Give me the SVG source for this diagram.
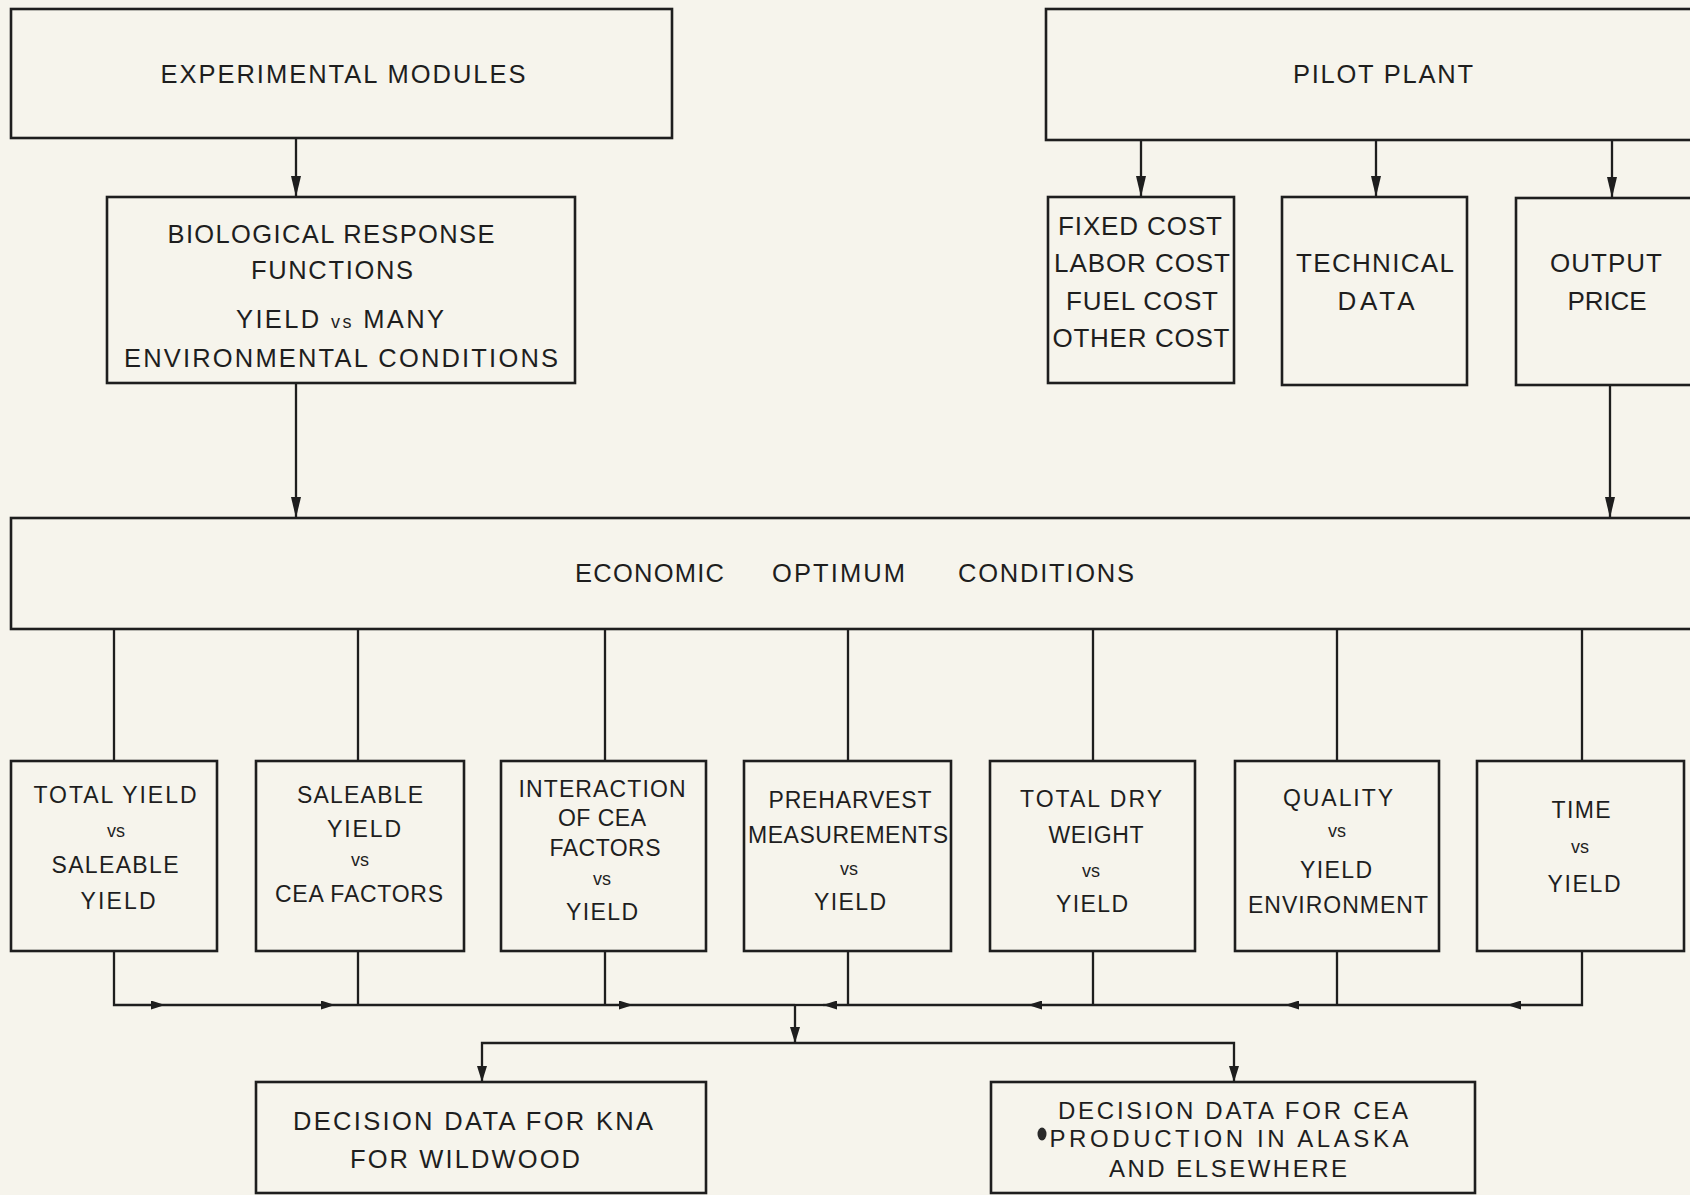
<svg xmlns="http://www.w3.org/2000/svg" width="1690" height="1195" viewBox="0 0 1690 1195">
<style>
.box{fill:none;stroke:#1e1e1e;stroke-width:2.6}
.ln{fill:none;stroke:#1e1e1e;stroke-width:2.3}
.t{font-family:"Liberation Sans",Arial,sans-serif;fill:#1e1e1e;text-anchor:middle}
.s{text-anchor:start}
.f24{font-size:25.5px}
.f25{font-size:26px}
.f22{font-size:23px}
.f23{font-size:24px}
.vs{font-size:18px}
</style>
<defs>
<marker id="big" viewBox="0 0 21 10" refX="21" refY="5" markerWidth="21" markerHeight="10" markerUnits="userSpaceOnUse" orient="auto"><path d="M0,0 L21,5 L0,10 z" fill="#1e1e1e"/></marker>
<marker id="mid" viewBox="0 0 16 10" refX="16" refY="5" markerWidth="16" markerHeight="10" markerUnits="userSpaceOnUse" orient="auto"><path d="M0,0 L16,5 L0,10 z" fill="#1e1e1e"/></marker>
<marker id="sm" viewBox="0 0 14 9" refX="14" refY="4.5" markerWidth="14" markerHeight="9" markerUnits="userSpaceOnUse" orient="auto"><path d="M0,0 L14,4.5 L0,9 z" fill="#1e1e1e"/></marker>
</defs>
<rect width="1690" height="1195" fill="#f6f4ec"/>

<g id="connectors">
<path class="ln" d="M296,138 V197" marker-end="url(#big)"/>
<path class="ln" d="M1141,140 V197" marker-end="url(#big)"/>
<path class="ln" d="M1376,140 V197" marker-end="url(#big)"/>
<path class="ln" d="M1612,140 V198" marker-end="url(#big)"/>
<path class="ln" d="M296,383 V518" marker-end="url(#big)"/>
<path class="ln" d="M1610,385 V518" marker-end="url(#big)"/>
<path class="ln" d="M114,629 V761 M358,629 V761 M605,629 V761 M848,629 V761 M1093,629 V761 M1337,629 V761 M1582,629 V761"/>
<path class="ln" d="M114,951 V1005 H165" marker-end="url(#sm)"/>
<path class="ln" d="M165,1005 H335" marker-end="url(#sm)"/>
<path class="ln" d="M335,1005 H633" marker-end="url(#sm)"/>
<path class="ln" d="M633,1005 H795"/>
<path class="ln" d="M358,951 V1005 M605,951 V1005 M848,951 V1005 M1093,951 V1005 M1337,951 V1005"/>
<path class="ln" d="M1582,951 V1005 H1507" marker-end="url(#sm)"/>
<path class="ln" d="M1507,1005 H1285" marker-end="url(#sm)"/>
<path class="ln" d="M1285,1005 H1028" marker-end="url(#sm)"/>
<path class="ln" d="M1028,1005 H823" marker-end="url(#sm)"/>
<path class="ln" d="M823,1005 H795"/>
<path class="ln" d="M795,1005 V1043" marker-end="url(#mid)"/>
<path class="ln" d="M795,1043 H482 V1082" marker-end="url(#mid)"/>
<path class="ln" d="M795,1043 H1234 V1082" marker-end="url(#mid)"/>
</g>

<g id="experimental-modules">
<rect class="box" x="11" y="9" width="661" height="129"/>
<text class="t f24" x="343" y="83" textLength="365">EXPERIMENTAL MODULES</text>
</g>

<g id="biological-response">
<rect class="box" x="107" y="197" width="468" height="186"/>
<text class="t f24" x="331" y="243" textLength="327">BIOLOGICAL RESPONSE</text>
<text class="t f24" x="332" y="279" textLength="162">FUNCTIONS</text>
<text class="t f24" x="340" y="328" textLength="208">YIELD <tspan class="vs">vs</tspan> MANY</text>
<text class="t f24" x="341" y="367" textLength="434">ENVIRONMENTAL CONDITIONS</text>
</g>

<g id="pilot-plant">
<rect class="box" x="1046" y="9" width="700" height="131"/>
<text class="t f24" x="1383" y="83" textLength="180">PILOT PLANT</text>
</g>

<g id="costs">
<rect class="box" x="1048" y="197" width="186" height="186"/>
<text class="t f25" x="1140" y="235" textLength="164">FIXED COST</text>
<text class="t f25" x="1142" y="272" textLength="176">LABOR COST</text>
<text class="t f25" x="1142" y="310" textLength="152">FUEL COST</text>
<text class="t f25" x="1141" y="347" textLength="177">OTHER COST</text>
</g>

<g id="technical-data">
<rect class="box" x="1282" y="197" width="185" height="188"/>
<text class="t f25" x="1375" y="272" textLength="158">TECHNICAL</text>
<text class="t f25" x="1376" y="310" textLength="77">DATA</text>
</g>

<g id="output-price">
<rect class="box" x="1516" y="198" width="230" height="187"/>
<text class="t f25" x="1606" y="272" textLength="112">OUTPUT</text>
<text class="t f25" x="1607" y="310" textLength="79">PRICE</text>
</g>

<g id="economic-optimum">
<rect class="box" x="11" y="518" width="1735" height="111"/>
<text class="t s f24" x="575" y="582" textLength="149">ECONOMIC</text>
<text class="t s f24" x="772" y="582" textLength="133">OPTIMUM</text>
<text class="t s f24" x="958" y="582" textLength="176">CONDITIONS</text>
</g>

<g id="total-yield">
<rect class="box" x="11" y="761" width="206" height="190"/>
<text class="t f22" x="115" y="803" textLength="163">TOTAL YIELD</text>
<text class="t vs" x="116" y="837">vs</text>
<text class="t f22" x="115" y="873" textLength="127">SALEABLE</text>
<text class="t f22" x="118" y="909" textLength="75">YIELD</text>
</g>

<g id="saleable-yield">
<rect class="box" x="256" y="761" width="208" height="190"/>
<text class="t f22" x="360" y="803" textLength="126">SALEABLE</text>
<text class="t f22" x="364" y="837" textLength="74">YIELD</text>
<text class="t vs" x="360" y="866">vs</text>
<text class="t f22" x="359" y="902" textLength="168">CEA FACTORS</text>
</g>

<g id="interaction">
<rect class="box" x="501" y="761" width="205" height="190"/>
<text class="t f22" x="602" y="797" textLength="167">INTERACTION</text>
<text class="t f22" x="602" y="826" textLength="88">OF CEA</text>
<text class="t f22" x="605" y="856" textLength="111">FACTORS</text>
<text class="t vs" x="602" y="885">vs</text>
<text class="t f22" x="602" y="920" textLength="72">YIELD</text>
</g>

<g id="preharvest">
<rect class="box" x="744" y="761" width="207" height="190"/>
<text class="t f22" x="850" y="808" textLength="163">PREHARVEST</text>
<text class="t f22" x="848" y="843" textLength="200">MEASUREMENTS</text>
<text class="t vs" x="849" y="875">vs</text>
<text class="t f22" x="850" y="910" textLength="72">YIELD</text>
</g>

<g id="total-dry-weight">
<rect class="box" x="990" y="761" width="205" height="190"/>
<text class="t f22" x="1091" y="807" textLength="142">TOTAL DRY</text>
<text class="t f22" x="1096" y="843" textLength="95">WEIGHT</text>
<text class="t vs" x="1091" y="877">vs</text>
<text class="t f22" x="1092" y="912" textLength="72">YIELD</text>
</g>

<g id="quality">
<rect class="box" x="1235" y="761" width="204" height="190"/>
<text class="t f22" x="1338" y="806" textLength="110">QUALITY</text>
<text class="t vs" x="1337" y="837">vs</text>
<text class="t f22" x="1336" y="878" textLength="72">YIELD</text>
<text class="t f22" x="1338" y="913" textLength="180">ENVIRONMENT</text>
</g>

<g id="time">
<rect class="box" x="1477" y="761" width="207" height="190"/>
<text class="t f22" x="1581" y="818" textLength="59">TIME</text>
<text class="t vs" x="1580" y="853">vs</text>
<text class="t f22" x="1584" y="892" textLength="73">YIELD</text>
</g>

<g id="decision-kna">
<rect class="box" x="256" y="1082" width="450" height="111"/>
<text class="t f24" x="473" y="1130" textLength="360">DECISION DATA FOR KNA</text>
<text class="t f24" x="465" y="1168" textLength="230">FOR  WILDWOOD</text>
</g>

<g id="decision-cea">
<rect class="box" x="991" y="1082" width="484" height="111"/>
<text class="t f23" x="1233" y="1119" textLength="350">DECISION DATA FOR CEA</text>
<ellipse cx="1042" cy="1134" rx="4.5" ry="6.5" fill="#2a2a2a"/>
<text class="t f23" x="1229" y="1147" textLength="359">PRODUCTION IN ALASKA</text>
<text class="t f23" x="1228" y="1177" textLength="238">AND ELSEWHERE</text>
</g>
</svg>
